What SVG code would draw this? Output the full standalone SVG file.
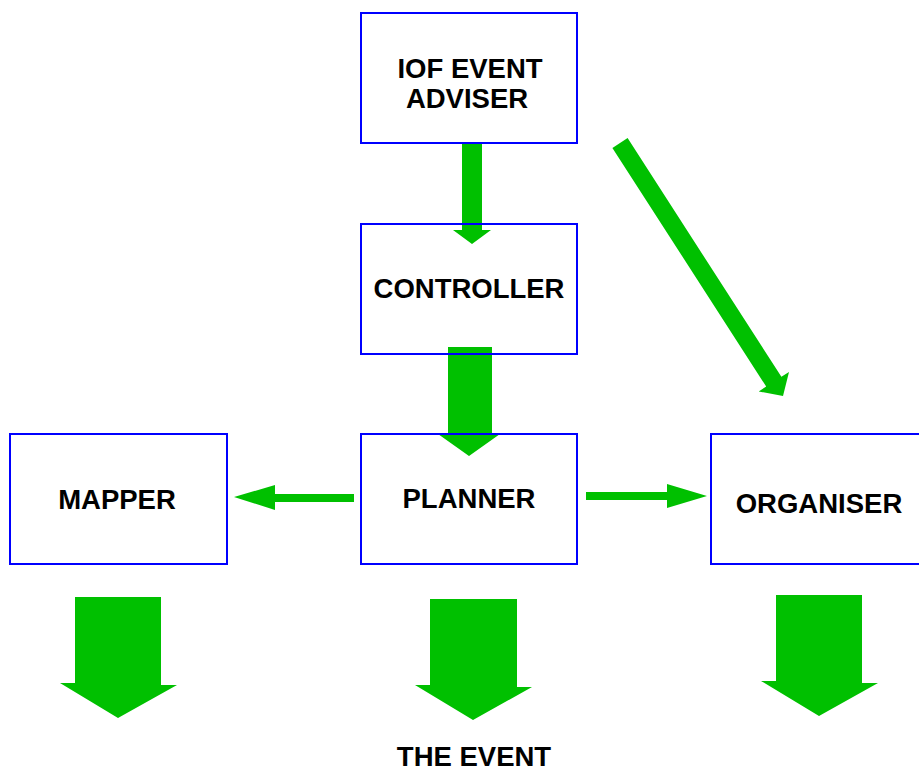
<svg xmlns="http://www.w3.org/2000/svg" width="919" height="773" viewBox="0 0 919 773">
<style>
.box{fill:none;stroke:#0000ff;stroke-width:2}
.arr{fill:#00c000;stroke:none}
.lbl{font-family:"Liberation Sans",Arial,sans-serif;font-weight:bold;font-size:27.5px;fill:#000;text-anchor:middle}
</style>
<rect width="919" height="773" fill="#fff"/>
<g id="connectors">
<polygon class="arr" points="462,142 482,142 482,230 491,230 472,244 453,230 462,230"/>
<polygon class="arr" points="448,347 492,347 492,434 500,434 469,456 438,434 448,434"/>
<polygon class="arr" points="354,494 354,502 275,502 275,510 234,497 275,485 275,494"/>
<polygon class="arr" points="586,492 667,492 667,484 707,496 667,508 667,500 586,500"/>
<polygon class="arr" points="612.4,147.9 627.6,138.1 781.4,376.8 789,372 783,396 758.7,391.5 766.2,386.6"/>
<polygon class="arr" points="75,597 161,597 161,685 177,685 118,718 60,683 75,683"/>
<polygon class="arr" points="430,599 517,599 517,687 532,687 473,720 415,685 430,685"/>
<polygon class="arr" points="776,595 862,595 862,683 878,683 819,716 761,681 776,681"/>
</g>
<g id="iof">
<rect class="box" x="361" y="13" width="216" height="130"/>
<text class="lbl" x="470" y="78">IOF EVENT</text>
<text class="lbl" x="467" y="108">ADVISER</text>
</g>
<g id="controller">
<rect class="box" x="361" y="224" width="216" height="130"/>
<text class="lbl" x="469" y="298">CONTROLLER</text>
</g>
<g id="planner">
<rect class="box" x="361" y="434" width="216" height="130"/>
<text class="lbl" x="469" y="508">PLANNER</text>
</g>
<g id="mapper">
<rect class="box" x="10" y="434" width="217" height="130"/>
<text class="lbl" x="117" y="509">MAPPER</text>
</g>
<g id="organiser">
<rect class="box" x="711" y="434" width="215" height="130"/>
<text class="lbl" x="819" y="513">ORGANISER</text>
</g>
<g id="event">
<text class="lbl" x="474" y="766">THE EVENT</text>
</g>
</svg>
